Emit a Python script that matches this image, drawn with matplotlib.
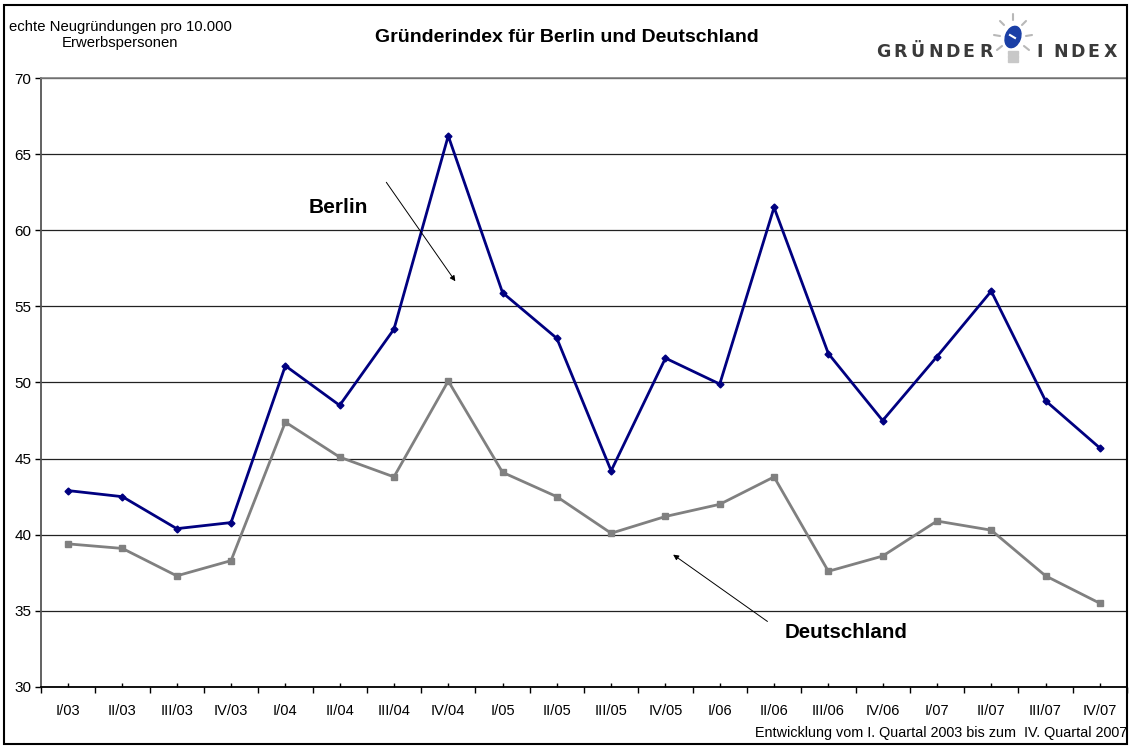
import numpy as np
import matplotlib
matplotlib.use("Agg")
import matplotlib.pyplot as plt
from matplotlib.patches import Ellipse, Rectangle

plt.rcParams["font.family"] = ["Liberation Sans", "DejaVu Sans"]

quarters = ["I/03", "II/03", "III/03", "IV/03",
            "I/04", "II/04", "III/04", "IV/04",
            "I/05", "II/05", "III/05", "IV/05",
            "I/06", "II/06", "III/06", "IV/06",
            "I/07", "II/07", "III/07", "IV/07"]

berlin = [42.9, 42.5, 40.4, 40.8,
          51.1, 48.5, 53.5, 66.2,
          55.9, 52.9, 44.2, 51.6,
          49.9, 61.5, 51.9, 47.5,
          51.7, 56.0, 48.8, 45.7]

deutschland = [39.4, 39.1, 37.3, 38.3,
               47.4, 45.1, 43.8, 50.1,
               44.1, 42.5, 40.1, 41.2,
               42.0, 43.8, 37.6, 38.6,
               40.9, 40.3, 37.3, 35.5]

W, H = 1130, 747
fig = plt.figure(figsize=(W / 100, H / 100), dpi=100)

# plot area in pixel coordinates of the reference
left, right, top, bottom = 41, 1127, 78, 687
ax = fig.add_axes([left / W, 1 - bottom / H, (right - left) / W, (bottom - top) / H])

x = np.arange(len(quarters))
ax.plot(x, berlin, color="#000080", lw=2.0, marker="D", ms=3.5,
        markeredgecolor="#000080", markerfacecolor="#000080", zorder=3)
ax.plot(x, deutschland, color="#808080", lw=2.0, marker="s", ms=4.5,
        markeredgecolor="#808080", markerfacecolor="#808080", zorder=3)

ax.set_xlim(-0.5, len(quarters) - 0.5)
ax.set_ylim(30, 70)
ax.set_yticks(np.arange(30, 71, 5))
ax.yaxis.grid(True, color="#222222", lw=0.9)
ax.set_axisbelow(True)

# major ticks at category borders, labels at centres
ax.set_xticks(np.arange(-0.5, len(quarters), 1.0))
ax.set_xticklabels([])
ax.set_xticks(x, minor=True)
ax.set_xticklabels(quarters, minor=True)
ax.tick_params(axis="x", which="major", direction="out", length=4, width=1, color="black")
ax.tick_params(axis="x", which="minor", direction="in", length=3, width=1, color="black",
               labelsize=10.5, pad=12.5)
ax.tick_params(axis="y", direction="out", length=4, width=1, labelsize=11, pad=3)

for side in ["top", "right"]:
    ax.spines[side].set_color("#808080")
    ax.spines[side].set_linewidth(1.2)
ax.spines["left"].set_color("#555555")
ax.spines["left"].set_linewidth(1.3)
ax.spines["bottom"].set_color("black")
ax.spines["bottom"].set_linewidth(1.3)

# labels with arrows
ax.text(4.42, 61.5, "Berlin", fontsize=15, fontweight="bold", va="center", ha="left")
ax.annotate("", xy=(7.16, 56.5), xytext=(5.83, 63.3),
            arrowprops=dict(arrowstyle="-|>", color="black", lw=0.7, mutation_scale=8))
ax.text(13.2, 33.55, "Deutschland", fontsize=14.8, fontweight="bold", va="center", ha="left")
ax.annotate("", xy=(11.1, 38.8), xytext=(12.92, 34.2),
            arrowprops=dict(arrowstyle="-|>", color="black", lw=0.7, mutation_scale=8))

# texts around the chart
fig.text(567 / W, 1 - 38 / H, "Gründerindex für Berlin und Deutschland",
         fontsize=14, fontweight="bold", ha="center", va="center")
fig.text(120 / W, 1 - 35 / H, "echte Neugründungen pro 10.000\nErwerbspersonen",
         fontsize=10.7, ha="center", va="center", multialignment="center", linespacing=1.2)
fig.text(1127 / W, 1 - 733 / H, "Entwicklung vom I. Quartal 2003 bis zum  IV. Quartal 2007",
         fontsize=10.4, ha="right", va="center")

# logo
for i, ch in enumerate("GRÜNDER"):
    fig.text((876 + i * 17.3) / W, 1 - 52 / H, ch, fontsize=12.5, fontweight="bold",
             color="#3a3a3a", ha="left", va="center", family=["DejaVu Sans"])
for i, ch in enumerate("INDEX"):
    fig.text((1036 + i * 17) / W, 1 - 52 / H, ch, fontsize=12.5, fontweight="bold",
             color="#3a3a3a", ha="left", va="center", family=["DejaVu Sans"])

lx = fig.add_axes([988 / W, 1 - 72 / H, 50 / W, 62 / H])
lx.set_xlim(0, 50)
lx.set_ylim(62, 0)
lx.axis("off")
rays = [((25, 4), (25, 10)), ((12, 11), (16, 15)), ((38, 11), (34, 15)),
        ((6, 25), (12, 26)), ((44, 25), (38, 26)), ((9, 40), (14, 36)), ((41, 40), (36, 36))]
for (x0, y0), (x1, y1) in rays:
    lx.plot([x0, x1], [y0, y1], color="#b8b8b8", lw=1.5, solid_capstyle="round")
lx.add_patch(Ellipse((25, 27), 15, 22, angle=20, color="#1a3fa6"))
lx.plot([22, 27], [25, 28], color="white", lw=1.5)
for k in range(3):
    lx.add_patch(Rectangle((20, 41 + k * 4), 10, 2.5, color="#c8c8c8"))

# outer frame
fig.patches.append(Rectangle((4 / W, 3 / H), (1127 - 4) / W, (742 - 3) / H,
                             transform=fig.transFigure, fill=False,
                             edgecolor="black", lw=1.5))

fig.savefig("out.png", dpi=100)
